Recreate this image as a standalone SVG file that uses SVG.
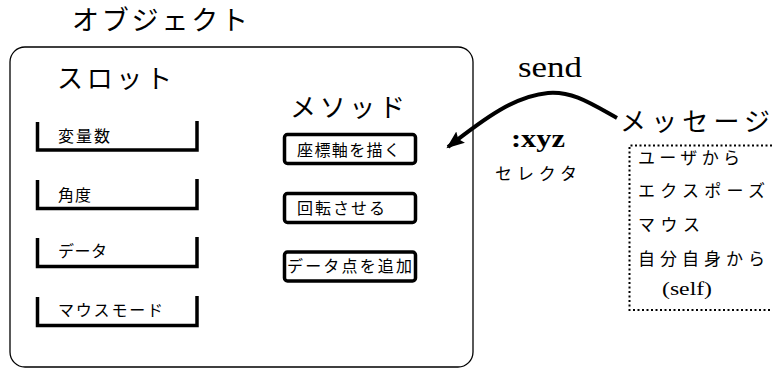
<svg xmlns="http://www.w3.org/2000/svg" width="772" height="368" viewBox="0 0 772 368">
<style>
.jp{font-family:"Noto Sans CJK JP","Noto Sans CJK SC",sans-serif;fill:#000}
.ser{font-family:"Liberation Serif","Noto Sans CJK JP",serif;fill:#000}
.slot{fill:none;stroke:#000;stroke-width:3.5;stroke-linejoin:miter}
.meth{fill:#fff;stroke:#000;stroke-width:3.5}
.big{font-size:26px}
.small{font-size:16px}
</style>
<defs>
<marker id="ah" markerWidth="20" markerHeight="16" refX="16" refY="7" orient="auto" markerUnits="userSpaceOnUse">
<path d="M0,0 L18,7 L0,14 L3,7 Z" fill="#000"/>
</marker>
</defs>
<rect width="772" height="368" fill="#fff"/>
<g id="object">
<text class="jp" x="72" y="30" font-size="27" textLength="176" lengthAdjust="spacing">オブジェクト</text>
<rect x="10" y="47" width="463" height="320" rx="15" fill="none" stroke="#000" stroke-width="1.3"/>
</g>
<g id="slots">
<text class="jp big" x="57" y="88" textLength="115" lengthAdjust="spacing">スロット</text>
<g id="slot1"><path class="slot" d="M37.5,122 V150 H197 V121"/><text class="jp small" x="58" y="142" textLength="52" lengthAdjust="spacing">変量数</text></g>
<g id="slot2"><path class="slot" d="M37.5,180 V208.5 H197 V179"/><text class="jp small" x="58" y="201" textLength="33" lengthAdjust="spacing">角度</text></g>
<g id="slot3"><path class="slot" d="M37.5,238 V266.5 H197 V237"/><text class="jp small" x="58" y="257" textLength="49" lengthAdjust="spacing">データ</text></g>
<g id="slot4"><path class="slot" d="M37.5,297 V325.5 H197 V296"/><text class="jp small" x="58" y="316" textLength="105" lengthAdjust="spacing">マウスモード</text></g>
</g>
<g id="methods">
<text class="jp big" x="290" y="117" textLength="115" lengthAdjust="spacing">メソッド</text>
<g id="method1"><rect class="meth" x="284.5" y="134.5" width="131" height="29" rx="3"/><text class="jp small" x="297" y="156" textLength="103" lengthAdjust="spacing">座標軸を描く</text></g>
<g id="method2"><rect class="meth" x="284.5" y="193.5" width="131" height="29" rx="3"/><text class="jp small" x="297" y="214" textLength="88" lengthAdjust="spacing">回転させる</text></g>
<g id="method3"><rect class="meth" x="284.5" y="252" width="131" height="29" rx="3"/><text class="jp small" x="287" y="272" textLength="125" lengthAdjust="spacing">データ点を追加</text></g>
</g>
<g id="connectors">
<path d="M617,118 C590,103 572,91 548,93 C515,96 485,118 448,147" fill="none" stroke="#000" stroke-width="4" marker-end="url(#ah)"/>
</g>
<g id="send-label">
<text class="ser" x="518" y="77" font-size="29" textLength="64" lengthAdjust="spacingAndGlyphs">send</text>
<text class="ser" x="511" y="147" font-size="25" font-weight="bold" textLength="54" lengthAdjust="spacingAndGlyphs">:xyz</text>
<text class="jp" x="495" y="180" font-size="17" textLength="82" lengthAdjust="spacing">セレクタ</text>
</g>
<g id="message">
<text class="jp" x="620" y="131" font-size="26" textLength="150" lengthAdjust="spacing">メッセージ</text>
<path d="M772,145.5 H629.5 V310 H772" fill="none" stroke="#000" stroke-width="2" stroke-dasharray="2,2.5"/>
<text class="jp" x="638" y="164" font-size="17" textLength="102" lengthAdjust="spacing">ユーザから</text>
<text class="jp" x="638" y="197" font-size="17" textLength="127" lengthAdjust="spacing">エクスポーズ</text>
<text class="jp" x="638" y="231" font-size="17" textLength="62" lengthAdjust="spacing">マウス</text>
<text class="jp" x="638" y="265" font-size="17" textLength="127" lengthAdjust="spacing">自分自身から</text>
<text class="ser" x="662" y="295" font-size="18" textLength="50" lengthAdjust="spacingAndGlyphs">(self)</text>
</g>
</svg>
